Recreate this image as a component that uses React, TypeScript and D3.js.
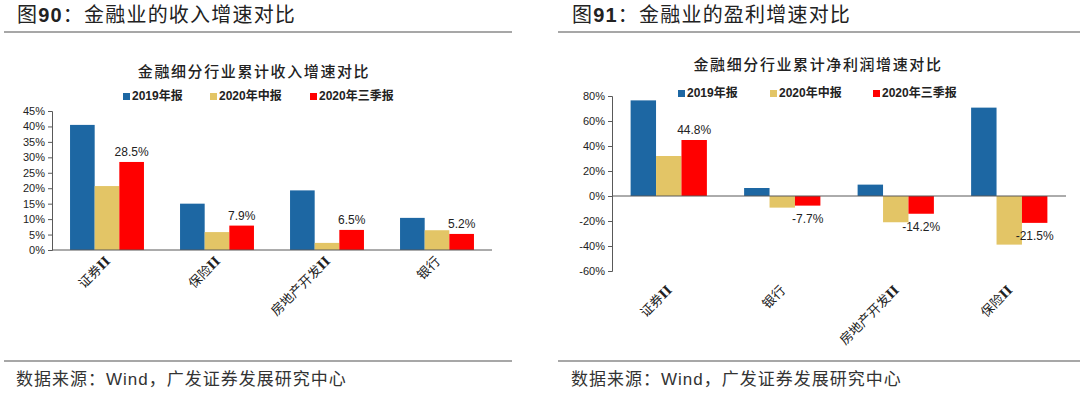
import { useEffect, useRef } from 'react';
import * as d3 from 'd3';

const seriesNames = ['2019年报', '2020年中报', '2020年三季报'];
const seriesColors = ['#1d67a3', '#e3c566', '#ff0000'];

const incomeCategories = ['证券Ⅱ', '保险Ⅱ', '房地产开发Ⅱ', '银行'];
const income2019 = [40.5, 15.0, 19.3, 10.4];
const incomeH1 = [20.7, 5.8, 2.3, 6.4];
const incomeQ3 = [28.5, 7.9, 6.5, 5.2];
const incomeTicks = [0, 5, 10, 15, 20, 25, 30, 35, 40, 45];

const profitCategories = ['证券Ⅱ', '银行', '房地产开发Ⅱ', '保险Ⅱ'];
const profit2019 = [76.5, 6.4, 9.1, 70.7];
const profitH1 = [32.0, -9.3, -21.0, -38.9];
const profitQ3 = [44.8, -7.7, -14.2, -21.5];
const profitTicks = [-60, -40, -20, 0, 20, 40, 60, 80];

const CJK = '"Noto Sans CJK SC", sans-serif';
const LATIN = '"Liberation Sans", Arial, sans-serif';
const ROMAN = '"DejaVu Serif", "Liberation Serif", serif';

interface PanelSpec {
  figTitle: string;
  figNo: string;
  chartTitle: string;
  headX: number;
  titleX: number;
  titleY: number;
  legendY: number;
  legendX: number[];
  categories: string[];
  series: number[][];
  ticks: number[];
  x0: number;
  x1: number;
  yTop: number;
  yBottom: number;
  labelDy: number;
  lineX: [number, number];
}

const drawPanel = (svg: d3.Selection<SVGSVGElement, unknown, null, undefined>, p: PanelSpec) => {
  const g = svg.append('g');

  // figure heading
  const head = g.append('text').attr('x', p.headX).attr('y', 22)
    .attr('fill', '#222').style('font-size', '20px').style('letter-spacing', '1.2px');
  head.append('tspan').style('font-family', CJK).text('图');
  head.append('tspan').style('font-family', LATIN).style('font-weight', 'bold').text(p.figNo);
  head.append('tspan').style('font-family', CJK).text('：金融业的' + p.figTitle);

  g.append('line').attr('x1', p.lineX[0]).attr('x2', p.lineX[1]).attr('y1', 32).attr('y2', 32)
    .attr('stroke', '#8a8a8a').attr('stroke-width', 1.5);
  g.append('line').attr('x1', p.lineX[0]).attr('x2', p.lineX[1]).attr('y1', 361).attr('y2', 361)
    .attr('stroke', '#8a8a8a').attr('stroke-width', 1.5);

  const src = g.append('text').attr('x', p.headX - 1).attr('y', 385)
    .attr('fill', '#333').style('font-size', '17px').style('letter-spacing', '1px');
  src.append('tspan').style('font-family', CJK).text('数据来源：');
  src.append('tspan').style('font-family', LATIN).text('Wind');
  src.append('tspan').style('font-family', CJK).text('，广发证券发展研究中心');

  // chart title
  g.append('text').attr('x', p.titleX).attr('y', p.titleY).attr('text-anchor', 'middle')
    .attr('fill', '#222').style('font-family', CJK).style('font-size', '15px').style('font-weight', '500')
    .style('letter-spacing', '1.6px')
    .text(p.chartTitle);

  // legend
  seriesNames.forEach((name, i) => {
    const lx = p.legendX[i];
    g.append('rect').attr('x', lx).attr('y', p.legendY - 7).attr('width', 7).attr('height', 7)
      .attr('fill', seriesColors[i]);
    const t = g.append('text').attr('x', lx + 9).attr('y', p.legendY).attr('fill', '#222')
      .style('font-size', '12px').style('font-weight', 'bold');
    t.append('tspan').style('font-family', LATIN).text(name.slice(0, 4));
    t.append('tspan').style('font-family', CJK).text(name.slice(4));
  });

  const x = d3.scaleBand<string>().domain(p.categories).range([p.x0, p.x1]).padding(0);
  const y = d3.scaleLinear().domain([p.ticks[0], p.ticks[p.ticks.length - 1]]).range([p.yBottom, p.yTop]);
  const bw = x.bandwidth() * 0.224;

  p.series.forEach((vals, si) => {
    g.append('g').selectAll('rect').data(vals).join('rect')
      .attr('x', (_, i) => x(p.categories[i])! + x.bandwidth() / 2 + (si - 1.5) * bw)
      .attr('width', bw)
      .attr('y', d => y(Math.max(0, d)))
      .attr('height', d => Math.abs(y(d) - y(0)))
      .attr('fill', seriesColors[si]);
  });

  // value labels for the latest series
  const last = p.series[2];
  g.append('g').selectAll('text').data(last).join('text')
    .attr('x', (_, i) => x(p.categories[i])! + x.bandwidth() / 2 + bw)
    .attr('y', d => (d >= 0 ? y(d) - 6 : y(d) + 17))
    .attr('text-anchor', 'middle')
    .attr('fill', '#222')
    .style('font-family', LATIN).style('font-size', '12px')
    .text(d => d.toFixed(1) + '%');

  // y axis
  const yAxis = g.append('g').attr('transform', `translate(${p.x0},0)`)
    .call(d3.axisLeft(y).tickValues(p.ticks).tickSize(4).tickSizeOuter(4).tickFormat(d => `${d}%`));
  yAxis.select('.domain').attr('stroke', '#595959');
  yAxis.selectAll('line').attr('stroke', '#595959');
  yAxis.selectAll('text').attr('fill', '#222').style('font-family', LATIN).style('font-size', '11px');

  // zero line
  g.append('line').attr('x1', p.x0).attr('x2', p.x1).attr('y1', y(0)).attr('y2', y(0))
    .attr('stroke', '#595959').attr('stroke-width', 1);

  // category labels
  const labels = g.append('g').selectAll('text').data(p.categories).join('text')
    .attr('transform', d => `translate(${x(d)! + x.bandwidth() / 2 + 4},${p.yBottom + p.labelDy}) rotate(-45)`)
    .attr('text-anchor', 'end')
    .attr('fill', '#222')
    .style('font-size', '13px');
  labels.each(function (d) {
    const t = d3.select(this);
    const base = d.replace('Ⅱ', '');
    t.append('tspan').style('font-family', CJK).text(base);
    if (d.includes('Ⅱ')) {
      t.append('tspan').style('font-family', ROMAN).style('font-weight', 'bold').text('II');
    }
  });
};

const App = () => {
  const ref = useRef<SVGSVGElement>(null);

  useEffect(() => {
    if (!ref.current) return;
    const svg = d3.select(ref.current);
    svg.selectAll('*').remove();

    drawPanel(svg, {
      figNo: '90',
      figTitle: '收入增速对比',
      chartTitle: '金融细分行业累计收入增速对比',
      headX: 17,
      titleX: 254,
      titleY: 77,
      legendY: 100,
      legendX: [123, 210, 310],
      categories: incomeCategories,
      series: [income2019, incomeH1, incomeQ3],
      ticks: incomeTicks,
      x0: 52,
      x1: 492,
      yTop: 111,
      yBottom: 250,
      labelDy: 12,
      lineX: [4, 512],
    });

    drawPanel(svg, {
      figNo: '91',
      figTitle: '盈利增速对比',
      chartTitle: '金融细分行业累计净利润增速对比',
      headX: 572,
      titleX: 818,
      titleY: 70,
      legendY: 97,
      legendX: [678, 770, 873],
      categories: profitCategories,
      series: [profit2019, profitH1, profitQ3],
      ticks: profitTicks,
      x0: 612,
      x1: 1066,
      yTop: 96,
      yBottom: 271,
      labelDy: 20,
      lineX: [558, 1080],
    });
  }, []);

  return (
    <svg ref={ref} width={1080} height={399}
      style={{ position: 'absolute', left: 0, top: 0, background: '#fff' }} />
  );
};

export default App;
